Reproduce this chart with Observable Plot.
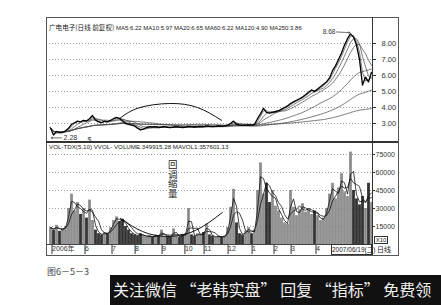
<!DOCTYPE html>
<html><head><meta charset="utf-8">
<script src="https://cdn.jsdelivr.net/npm/d3@7"></script>
<script src="https://cdn.jsdelivr.net/npm/@observablehq/plot@0.6"></script>
<style>
html,body{margin:0;padding:0;background:#fff;}
#wrap{position:relative;width:441px;height:305px;overflow:hidden;font-family:"Liberation Sans","DejaVu Sans","Noto Sans CJK SC",sans-serif;color:#333;}
#wrap svg{position:absolute;left:0;top:0;overflow:visible;}
.abs{position:absolute;white-space:nowrap;}
.cjk{font-family:"Noto Sans CJK SC",sans-serif;}
</style></head><body><div id="wrap"></div>
<script>
// ---- data ----
const titleName = "广电电子(日线 前复权)";
const titleMA = " MA5:6.22 MA10:5.97 MA20:6.65 MA60:6.22 MA120:4.90 MA250:3.86";
const volTitle = "VOL-TDX(5,10) VVOL- VOLUME:349915.28 MAVOL1:357601.13";
const caption = "图6－5－3";
const banner = "关注微信 “老韩实盘” 回复 “指标” 免费领";
const noteText = "回调缩量";
const dateLabel = "2007/06/19(二)";
const periodLabel = "日线";
const volUnit = "X10";

const prices = [2.72,2.28,2.5,2.42,2.45,2.55,2.7,2.95,3.05,3.15,3.1,3.2,3.15,3.3,3.5,3.2,3.1,3.05,3.15,3.1,
  3.2,3.3,3.38,3.3,3.15,3.0,2.95,2.9,2.85,2.7,2.6,2.65,2.75,2.8,2.78,2.8,2.75,2.78,2.8,2.76,
  2.74,2.78,2.8,2.77,2.75,2.78,2.82,2.8,2.78,2.8,2.82,2.8,2.85,2.82,2.8,2.82,2.85,2.83,2.85,2.9,
  3.0,3.15,2.95,2.9,2.88,2.9,2.92,2.9,2.95,3.3,3.6,3.95,3.7,3.65,3.7,3.75,3.8,3.9,4.0,4.1,
  4.25,4.35,4.45,4.55,4.65,4.8,4.95,5.1,5.0,5.15,5.3,5.45,5.6,5.85,6.3,6.6,7.0,7.4,7.9,8.3,
  8.6,8.4,7.9,7.0,5.4,5.9,5.6,6.2];
const volumes = [14000,12000,16000,11000,13000,15000,30000,42000,28000,35000,25000,30000,22000,37000,20000,12000,9000,8000,10000,9000,
  14000,20000,23000,19000,21000,15000,12000,9000,8000,7000,9000,7000,6000,7000,6000,8000,7000,12000,6000,7000,
  6000,13000,7000,6000,8000,9000,30000,8000,7000,9000,8000,10000,17000,8000,7000,6000,7000,6000,7000,14000,
  31000,46000,18000,9000,8000,11000,14000,9000,12000,45000,68000,42000,51000,35000,45000,32000,28000,22000,18000,17000,
  45000,31000,24000,29000,34000,27000,30000,25000,28000,24000,20000,22000,30000,42000,51000,38000,47000,59000,44000,40000,
  77000,45000,38000,33000,40000,30000,51000,35000];
// moving-average windows (MA5..MA250, MAVOL 5/10) expressed in samples (~2.7 trading days each)
const maWindows = [2,4,7,22,44,92];
const volMaWindows = [2,4];
const priceTicks = [3,4,5,6,7,8];
const volTicks = [15000,30000,45000,60000,75000];
const monthIdx = [0,11,20,27.7,36.7,44.3,50.7,58.7,66.7,74,79.7,88];
const monthLabels = ["2006年","6","7","8","9","10","11","12","1","2","3","4"];
const priceArc = [{i:23.3,v:3.35},{i:29.5,v:3.98},{i:39.7,v:4.25},{i:49,v:4.0},{i:57,v:3.2}];
const volArc = [{i:23.3,v:21700},{i:30.7,v:10800},{i:39,v:6700},{i:48.3,v:11700},{i:57.3,v:26700}];
const highNote = [{i1:95.3,v1:8.72,i2:99.8,v2:8.68,label:"8.68"}];
const lowNote = [{i1:3.7,v1:2.1,i2:0.3,v2:2.1,label:"2.28"}];
const exMark = [{i:13,v:2.0,label:"$"}];

const N = prices.length;
const idx = (d,i)=>i;
const font = '"Liberation Sans","DejaVu Sans","Noto Sans CJK SC",sans-serif';
const wrap = document.getElementById("wrap");

const pricePlot = Plot.plot({
  width:441, height:142, marginLeft:49, marginRight:69, marginTop:17, marginBottom:0,
  x:{domain:[0,N-1], range:[50,371], axis:null},
  y:{domain:[3,8], range:[123,43]},
  style:{background:"transparent", fontFamily:font, color:"#333"},
  marks:[
    Plot.gridY(priceTicks,{stroke:"#888", strokeOpacity:1, strokeDasharray:"1,2", strokeWidth:0.8}),
    Plot.axisY(priceTicks,{anchor:"right", tickSize:3, tickPadding:6, tickFormat:d=>d.toFixed(2), fontSize:7.5, label:null}),
    ...maWindows.map(k=>Plot.lineY(prices, Plot.windowY({k, anchor:"end"}, {x:idx, y:d=>d, stroke:"#444", strokeWidth:0.7}))),
    Plot.lineY(prices,{x:idx, y:d=>d, stroke:"#000", strokeWidth:1.3}),
    Plot.line(priceArc,{x:"i", y:"v", curve:"natural", stroke:"#111", strokeWidth:1}),
    Plot.arrow(highNote,{x1:"i1", y1:"v1", x2:"i2", y2:"v2", stroke:"#333", strokeWidth:0.7, headLength:3}),
    Plot.text(highNote,{x:"i1", y:"v1", text:"label", textAnchor:"end", dx:-1, fontSize:6.5, fill:"#333"}),
    Plot.arrow(lowNote,{x1:"i1", y1:"v1", x2:"i2", y2:"v2", stroke:"#333", strokeWidth:0.7, headLength:3}),
    Plot.text(lowNote,{x:"i1", y:"v1", text:"label", textAnchor:"start", dx:2, fontSize:7, fill:"#333"}),
    Plot.text(exMark,{x:"i", y:"v", text:"label", fontSize:7, fill:"#333"})
  ]
});

const volPlot = Plot.plot({
  width:441, height:256, marginLeft:49, marginRight:69, marginTop:142, marginBottom:12,
  x:{domain:[0,N-1], range:[50,371]},
  y:{domain:[0,75000], range:[244,154]},
  style:{background:"transparent", fontFamily:font, color:"#333"},
  marks:[
    Plot.gridY(volTicks,{stroke:"#888", strokeOpacity:1, strokeDasharray:"1,2", strokeWidth:0.8}),
    Plot.axisY(volTicks,{anchor:"right", tickSize:2, tickPadding:1, tickFormat:d=>String(d), fontSize:7, label:null}),
    Plot.ruleX(volumes,{x:idx, y1:0, y2:d=>d, stroke:(d,i)=> (i>0 && prices[i]<prices[i-1]) ? "#333" : "#8e8e8e", strokeWidth:2.8}),
    ...volMaWindows.map(k=>Plot.lineY(volumes, Plot.windowY({k, anchor:"end"}, {x:idx, y:d=>d, stroke:"#111", strokeWidth:0.8}))),
    Plot.line(volArc,{x:"i", y:"v", curve:"natural", stroke:"#111", strokeWidth:1}),
    Plot.axisX(monthIdx,{tickSize:10, tickPadding:-8, tickFormat:d=>monthLabels[monthIdx.indexOf(d)], textAnchor:"start", dx:1.5, fontSize:7, stroke:"#333", label:null})
  ]
});

wrap.appendChild(pricePlot);
wrap.appendChild(volPlot);

function addDiv(css, text){
  const d = document.createElement("div");
  d.className = "abs";
  d.style.cssText = css;
  if (text != null) d.textContent = text;
  wrap.appendChild(d);
  return d;
}
// frame and panel separators
addDiv("left:46px;top:17px;width:353px;height:239px;box-sizing:border-box;border:1px solid #555;");
addDiv("left:372px;top:17px;width:1px;height:238px;background:#333;");
addDiv("left:46px;top:141px;width:352px;height:1.5px;background:#333;");
addDiv("left:46px;top:244px;width:326px;height:1px;background:#444;");
// texts
const t = addDiv("left:49px;top:20px;line-height:9px;color:#222;");
const s1 = document.createElement("span"); s1.className = "cjk"; s1.style.fontSize = "6.6px"; s1.textContent = titleName;
const s2 = document.createElement("span"); s2.style.fontSize = "6px"; s2.textContent = titleMA;
t.appendChild(s1); t.appendChild(s2);
addDiv("left:49px;top:142px;font-size:6.2px;line-height:9px;color:#222;", volTitle);
addDiv("left:331px;top:244px;width:41px;height:11px;box-sizing:border-box;border:1px solid #333;background:#fff;font-size:6.5px;line-height:9px;text-align:center;color:#222;", dateLabel);
addDiv("left:377px;top:245px;font-size:7px;line-height:9px;color:#222;", periodLabel);
addDiv("left:374px;top:236px;width:14px;height:8px;box-sizing:border-box;border:1px solid #333;font-size:6px;line-height:6px;text-align:center;color:#222;", volUnit);
addDiv("left:168px;top:160px;width:10px;white-space:normal;word-break:break-all;font-size:9.5px;line-height:9.5px;color:#222;background:#fff;font-family:'Noto Sans CJK SC',sans-serif;", noteText);
addDiv("left:47px;top:266px;font-size:9px;line-height:11px;color:#444;font-family:'Noto Sans CJK SC',sans-serif;", caption);
addDiv("left:110px;top:275px;width:331px;height:30px;background:#111;");
addDiv("left:113px;top:278px;font-size:16px;line-height:22px;color:#eee;font-family:'Noto Sans CJK SC',sans-serif;", banner);
</script></body></html>
